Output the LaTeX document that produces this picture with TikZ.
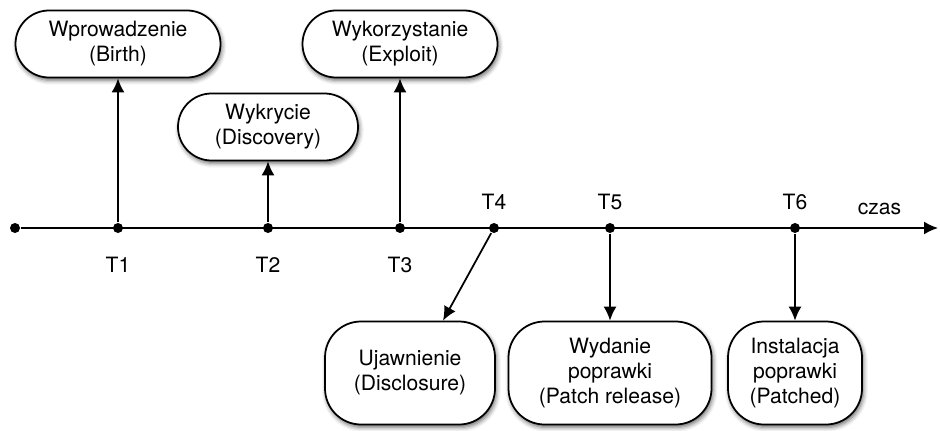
\documentclass[tikz,border=0pt]{standalone}
\usepackage{fontspec}
\setmainfont{TeX Gyre Heros}
\usetikzlibrary{positioning,arrows.meta,shadows.blur}

\tikzset{
  dot/.style={circle, fill, inner sep=0pt, minimum size=0.2cm},
  tick/.style={inner sep=0pt, font=\fontsize{12}{14.2}\selectfont},
  event/.style={draw, fill=white, line width=1pt, rounded corners=0.67cm,
    minimum height=1.34cm, align=center, font=\fontsize{12}{14.2}\selectfont,
    blur shadow={shadow xshift=0.8pt, shadow yshift=-1.6pt,
      shadow blur radius=2.5pt, shadow opacity=60}},
  fix/.style={event, rounded corners=0.72cm, minimum height=2.06cm},
}

\begin{document}
\begin{tikzpicture}[line width=1pt, on grid, >={Latex[length=2.8mm,width=2.6mm]}]
 \useasboundingbox (-0.3,-4.04) rectangle (18.5,4.56);
 % time axis
 \node[dot] (start) at (0,0) {};
 \node[dot, right=2.06cm of start] (t1) {};
 \node[dot, right=3cm of t1] (t2) {};
 \node[dot, right=2.64cm of t2] (t3) {};
 \node[dot, right=1.88cm of t3] (t4) {};
 \node[dot, right=2.32cm of t4] (t5) {};
 \node[dot, right=3.7cm of t5] (t6) {};
 \coordinate[right=2.86cm of t6] (end);
 \draw[->] (start) -- (end);
 \node[tick, below=0.74cm of t1] (l1) {T1};
 \node[tick, below=0.74cm of t2] (l2) {T2};
 \node[tick, below=0.74cm of t3] (l3) {T3};
 \node[tick, above=0.52cm of t4] (l4) {T4};
 \node[tick, above=0.52cm of t5] (l5) {T5};
 \node[tick, above=0.52cm of t6] (l6) {T6};
 \node[tick, above left=0.24cm and 0.72cm of end] (czas) {czas};
 % events
 \node[event, minimum width=4.1cm, above=3.68cm of t1] (birth) {Wprowadzenie\\(Birth)};
 \node[event, minimum width=3.6cm, above=2.02cm of t2] (discovery) {Wykrycie\\(Discovery)};
 \node[event, minimum width=3.9cm, above=3.68cm of t3] (exploit) {Wykorzystanie\\(Exploit)};
 \node[fix, minimum width=3.4cm, below left=2.9cm and 1.68cm of t4] (disclosure) {Ujawnienie\\(Disclosure)};
 \node[fix, minimum width=4.06cm, below=2.9cm of t5] (release) {Wydanie\\poprawki\\(Patch release)};
 \node[fix, minimum width=2.68cm, below=2.9cm of t6] (patched) {Instalacja\\poprawki\\(Patched)};
 \draw[->] (t1) -- (birth);
 \draw[->] (t2) -- (discovery);
 \draw[->] (t3) -- (exploit);
 \draw[->] (t4) -- ([xshift=0.66cm]disclosure.north);
 \draw[->] (t5) -- (release);
 \draw[->] (t6) -- (patched);
\end{tikzpicture}
\end{document}
